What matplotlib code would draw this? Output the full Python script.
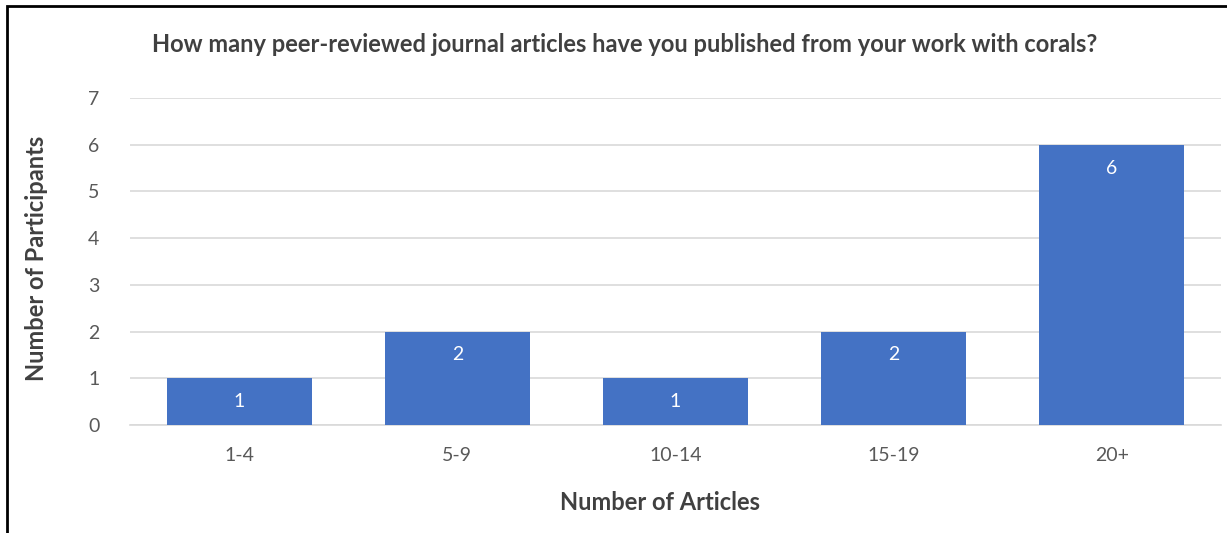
import matplotlib.pyplot as plt
from matplotlib.patches import Rectangle

plt.rcParams["font.family"] = ["Lato", "DejaVu Sans"]

categories = ["1-4", "5-9", "10-14", "15-19", "20+"]
participants = [1, 2, 1, 2, 6]
title = "How many peer-reviewed journal articles have you published from your work with corals?"

fig = plt.figure(figsize=(12.27, 5.33), dpi=100)
ax = fig.add_axes([130/1227, 1-425/533, 1091/1227, 327/533])

x = range(len(categories))
bars = ax.bar(x, participants, width=0.665, color="#4472C4", zorder=3)
for xi, v in zip(x, participants):
    ax.text(xi, v - 0.5, str(v), ha="center", va="center", color="white", fontsize=14)

ax.set_xlim(-0.5, len(categories) - 0.5)
ax.set_ylim(0, 7)
ax.set_yticks(range(0, 8))
ax.set_xticks(list(x))
ax.set_xticklabels(categories)
ax.tick_params(axis="both", length=0, labelsize=14, labelcolor="#595959")
ax.tick_params(axis="x", pad=16)
ax.tick_params(axis="y", pad=22)
ax.grid(axis="y", color="#d9d9d9", linewidth=1.2, zorder=0)
for s in ["top", "right", "left"]:
    ax.spines[s].set_visible(False)
ax.spines["bottom"].set_color("#d9d9d9")
ax.spines["bottom"].set_linewidth(1.2)

fig.text(625/1227, 1-45/533, title, ha="center", va="center", fontsize=17,
         fontweight="bold", color="#404040")
fig.text(37/1227, 1-258/533, "Number of Participants", ha="center", va="center",
         rotation=90, fontsize=17, fontweight="bold", color="#404040")
fig.text(660/1227, 1-502/533, "Number of Articles", ha="center", va="center",
         fontsize=17, fontweight="bold", color="#404040")

# frame that runs off the right and bottom edges
fig.patches.append(Rectangle((7/1227, -0.05), 1.1, 1 - 6/533 + 0.05, transform=fig.transFigure,
                             fill=False, edgecolor="black", linewidth=2))

fig.savefig("out.png", dpi=100)
